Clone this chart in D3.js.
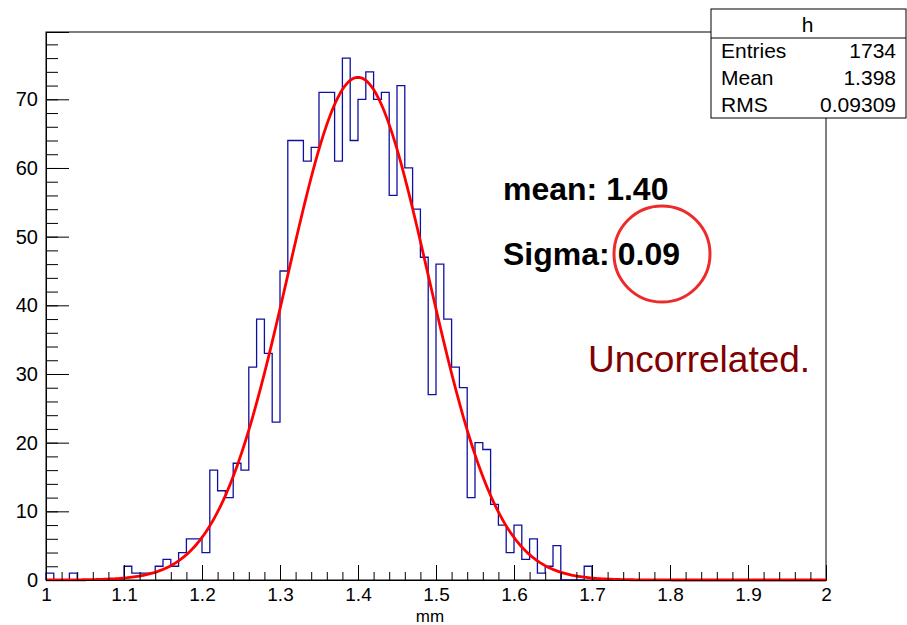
<!DOCTYPE html>
<html>
<head>
<meta charset="utf-8">
<script src="https://cdn.jsdelivr.net/npm/d3@7"></script>
<style>
  html, body { margin: 0; padding: 0; background: #fff; }
  svg { display: block; }
  text { font-family: "Liberation Sans", Arial, Helvetica, sans-serif; }
</style>
</head>
<body>
<svg id="chart" width="907" height="625"></svg>
<script>
// Histogram "h": 100 bins of width 0.01 from 1.00 to 2.00 (unit: mm)
const binRange = [1, 2];
const binCounts = [
  1, 0, 0, 1, 0, 0, 0, 0, 0, 0,        // 1.00 - 1.09
  2, 1, 1, 1, 2, 3, 2, 4, 6, 6,        // 1.10 - 1.19
  4, 16, 13, 12, 17, 16, 31, 38, 33, 23, // 1.20 - 1.29
  45, 64, 64, 61, 63, 71, 71, 61, 76, 64, // 1.30 - 1.39
  70, 74, 70, 71, 56, 72, 60, 54, 47, 27, // 1.40 - 1.49
  46, 38, 31, 28, 12, 20, 19, 11, 8, 4,  // 1.50 - 1.59
  8, 3, 6, 1, 2, 5, 0, 0, 0, 2,          // 1.60 - 1.69
  0, 0, 0, 0, 0, 0, 0, 0, 0, 0,          // 1.70 - 1.79
  0, 0, 0, 0, 0, 0, 0, 0, 0, 0,          // 1.80 - 1.89
  0, 0, 0, 0, 0, 0, 0, 0, 0, 0           // 1.90 - 1.99
];

// Gaussian fit parameters
const fitConstant = 73.2;
const fitMean = 1.40;
const fitSigma = 0.09;

// Axis ticks
const xMajorTicks = [1, 1.1, 1.2, 1.3, 1.4, 1.5, 1.6, 1.7, 1.8, 1.9, 2];
const xTickLabels = ["1", "1.1", "1.2", "1.3", "1.4", "1.5", "1.6", "1.7", "1.8", "1.9", "2"];
const xMinorStep = 0.02;
const yMajorTicks = [0, 10, 20, 30, 40, 50, 60, 70];
const yMinorStep = 2;
const xTitle = "mm";

// Statistics box
const statsTitle = "h";
const statsNames = ["Entries", "Mean", "RMS"];
const statsValues = ["1734", "1.398", "0.09309"];

// Annotations
const meanLabel = "mean: 1.40";
const sigmaLabel = "Sigma:";
const sigmaValue = "0.09";
const note = "Uncorrelated.";

const svg = d3.select("#chart");
const frame = { left: 46, right: 826, top: 32, bottom: 580 };

const yMax = d3.max(binCounts) * 1.05;
const x = d3.scaleLinear().domain(binRange).range([frame.left, frame.right]);
const y = d3.scaleLinear().domain([0, yMax]).range([frame.bottom, frame.top]);

const binWidth = (binRange[1] - binRange[0]) / binCounts.length;

// Frame
svg.append("rect")
  .attr("x", frame.left).attr("y", frame.top)
  .attr("width", frame.right - frame.left).attr("height", frame.bottom - frame.top)
  .attr("fill", "none").attr("stroke", "#000").attr("stroke-width", 1);

// Histogram outline as a step path
const steps = [[binRange[0], 0]];
binCounts.forEach((c, i) => {
  const lo = binRange[0] + i * binWidth;
  steps.push([lo, c], [lo + binWidth, c]);
});
steps.push([binRange[1], 0]);
svg.append("path")
  .datum(steps)
  .attr("fill", "none")
  .attr("stroke", "#1010a0")
  .attr("stroke-width", 1.3)
  .attr("d", d3.line().x(d => x(d[0])).y(d => y(d[1])));

// Fit curve
const gauss = v => fitConstant * Math.exp(-0.5 * Math.pow((v - fitMean) / fitSigma, 2));
const fitPts = d3.range(0, 401).map(i => {
  const v = binRange[0] + i * (binRange[1] - binRange[0]) / 400;
  return [v, gauss(v)];
});
svg.append("path")
  .datum(fitPts)
  .attr("fill", "none")
  .attr("stroke", "#ff0000")
  .attr("stroke-width", 2.8)
  .attr("stroke-linejoin", "round")
  .attr("d", d3.line().x(d => x(d[0])).y(d => y(d[1])));

// X axis: minor ticks, then labelled major ticks (ticks point into the frame)
const xMinor = d3.range(binRange[0], binRange[1] + 1e-9, xMinorStep);
svg.append("g")
  .attr("transform", `translate(0,${frame.bottom})`)
  .call(d3.axisBottom(x).tickValues(xMinor).tickSize(-8).tickFormat(""))
  .call(g => g.select(".domain").remove());
svg.append("g")
  .attr("class", "xaxis")
  .attr("transform", `translate(0,${frame.bottom})`)
  .call(d3.axisBottom(x).tickValues(xMajorTicks).tickSize(-15).tickPadding(8)
    .tickFormat((d, i) => xTickLabels[i]))
  .call(g => g.select(".domain").attr("stroke", "#000"))
  .call(g => g.selectAll("text").attr("font-size", 19).attr("fill", "#000")
    .attr("font-family", "Liberation Sans, Arial, sans-serif"));

// Y axis
const yMinor = d3.range(0, yMax, yMinorStep);
svg.append("g")
  .attr("transform", `translate(${frame.left},0)`)
  .call(d3.axisLeft(y).tickValues(yMinor).tickSize(-12).tickFormat(""))
  .call(g => g.select(".domain").remove());
svg.append("g")
  .attr("transform", `translate(${frame.left},0)`)
  .call(d3.axisLeft(y).tickValues(yMajorTicks).tickSize(-23).tickPadding(8).tickFormat(d3.format("d")))
  .call(g => g.select(".domain").attr("stroke", "#000"))
  .call(g => g.selectAll("text").attr("font-size", 20).attr("fill", "#000")
    .attr("font-family", "Liberation Sans, Arial, sans-serif"));

// Axis title
svg.append("text")
  .attr("x", (frame.left + frame.right) / 2 - 6).attr("y", 622)
  .attr("text-anchor", "middle").attr("font-size", 17)
  .text(xTitle);

// Statistics box
const sb = { left: 711, right: 906, top: 9, bottom: 118, sep: 38 };
const sg = svg.append("g");
sg.append("rect")
  .attr("x", sb.left).attr("y", sb.top)
  .attr("width", sb.right - sb.left).attr("height", sb.bottom - sb.top)
  .attr("fill", "#fff").attr("stroke", "#000").attr("stroke-width", 1);
sg.append("line")
  .attr("x1", sb.left).attr("x2", sb.right).attr("y1", sb.sep).attr("y2", sb.sep)
  .attr("stroke", "#000");
sg.append("text")
  .attr("x", (sb.left + sb.right) / 2 - 1).attr("y", 32)
  .attr("text-anchor", "middle").attr("font-size", 21).text(statsTitle);
const rowBase = [58, 85, 112];
statsNames.forEach((n, i) => {
  sg.append("text").attr("x", 721).attr("y", rowBase[i]).attr("font-size", 21).text(n);
  sg.append("text").attr("x", 896).attr("y", rowBase[i]).attr("font-size", 21)
    .attr("text-anchor", "end").text(statsValues[i]);
});

// Annotations
svg.append("text")
  .attr("x", 503).attr("y", 200)
  .attr("font-size", 32).attr("font-weight", "bold").text(meanLabel);
const sigmaText = svg.append("text")
  .attr("x", 503).attr("y", 265)
  .attr("font-size", 32).attr("font-weight", "bold");
sigmaText.append("tspan").text(sigmaLabel);
sigmaText.append("tspan").attr("dx", 8).text(sigmaValue);
svg.append("circle")
  .attr("cx", 662).attr("cy", 254).attr("r", 48)
  .attr("fill", "none").attr("stroke", "#ee2b2b").attr("stroke-width", 3);
svg.append("text")
  .attr("x", 588).attr("y", 372)
  .attr("font-size", 37).attr("fill", "#7f0000").text(note);
</script>
</body>
</html>
